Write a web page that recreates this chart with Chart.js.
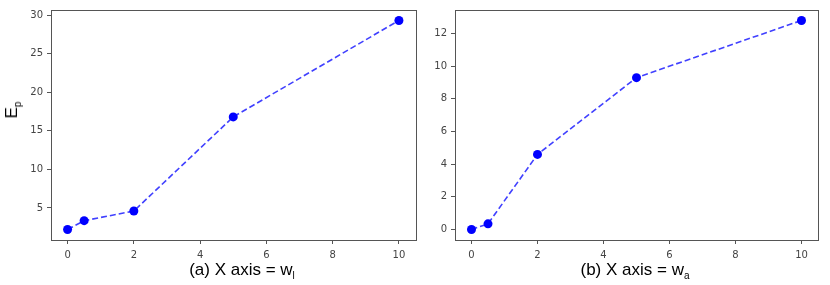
<!DOCTYPE html>
<html>
<head>
<meta charset="utf-8">
<script src="https://cdn.jsdelivr.net/npm/chart.js@4"></script>
<style>
body { margin: 0; background: #fff; }
#wrap { position: relative; width: 830px; height: 285px; overflow: hidden; }
canvas { position: absolute; top: 0; }
.cap { position: absolute; font-family: "Liberation Sans", Arial, sans-serif; font-size: 17px; color: #000; text-align: center; white-space: nowrap; }
.cap sub { font-size: 10px; vertical-align: -4px; }
#ylab { position: absolute; left: 2px; top: 110px; font-family: "Liberation Sans", Arial, sans-serif; font-size: 17px; transform-origin: left top; transform: rotate(-90deg) translate(-50%, 0); white-space: nowrap; }
#ylab sub { font-size: 10px; vertical-align: -4px; }
</style>
</head>
<body>
<div id="wrap">
  <canvas id="chartA" width="420" height="285" style="left:0"></canvas>
  <canvas id="chartB" width="410" height="285" style="left:420px"></canvas>
  <div class="cap" style="left:142px; top:260px; width:200px">(a) X axis = w<sub>l</sub></div>
  <div class="cap" style="left:535px; top:260px; width:200px">(b) X axis = w<sub>a</sub></div>
  <div id="ylab">E<sub>p</sub></div>
</div>
<script>
// x positions (same for both panels)
var xVals = [0, 0.5, 2, 5, 10];
var xTicks = [0, 2, 4, 6, 8, 10];

// panel (a): E_p vs w_l
var epA = [2.2, 3.35, 4.6, 16.8, 29.3];
var yTicksA = [5, 10, 15, 20, 25, 30];

// panel (b): E_p vs w_a
var epB = [0, 0.35, 4.6, 9.3, 12.8];
var yTicksB = [0, 2, 4, 6, 8, 10, 12];

var frame = {
  id: 'frame',
  afterDraw: function (chart) {
    var a = chart.chartArea, c = chart.ctx;
    c.save();
    c.strokeStyle = '#555';
    c.lineWidth = 1;
    c.strokeRect(Math.round(a.left) + 0.5, Math.round(a.top) + 0.5,
      Math.round(a.right - a.left), Math.round(a.bottom - a.top));
    c.restore();
  }
};

function makeChart(id, yVals, yTicks, yMin, yMax, pad, yWidth) {
  var pts = xVals.map(function (x, i) { return { x: x, y: yVals[i] }; });
  return new Chart(document.getElementById(id), {
    type: 'line',
    data: {
      datasets: [{
        data: pts,
        borderColor: 'rgba(0,0,255,0.75)',
        borderWidth: 1.6,
        borderDash: [6, 3],
        pointRadius: 4.5,
        pointBackgroundColor: '#0000ff',
        pointBorderWidth: 0,
        tension: 0,
        clip: false
      }]
    },
    options: {
      responsive: false,
      animation: false,
      devicePixelRatio: 1,
      layout: { padding: pad },
      plugins: { legend: { display: false }, tooltip: { enabled: false } },
      scales: {
        x: {
          type: 'linear', min: -0.5, max: 10.5,
          afterBuildTicks: function (s) { s.ticks = xTicks.map(function (v) { return { value: v }; }); },
          afterFit: function (s) { s.height = 45; },
          grid: { display: true, drawOnChartArea: false, drawTicks: true, tickLength: 4, color: '#555' },
          border: { display: false },
          ticks: { color: '#444', padding: 5, font: { family: 'DejaVu Sans', size: 10 }, maxRotation: 0 }
        },
        y: {
          type: 'linear', min: yMin, max: yMax,
          afterBuildTicks: function (s) { s.ticks = yTicks.map(function (v) { return { value: v }; }); },
          afterFit: function (s) { s.width = yWidth; },
          grid: { display: true, drawOnChartArea: false, drawTicks: true, tickLength: 4, color: '#555' },
          border: { display: false },
          ticks: { color: '#444', padding: 4, font: { family: 'DejaVu Sans', size: 10 } }
        }
      }
    },
    plugins: [frame]
  });
}

makeChart('chartA', epA, yTicksA, 0.845, 30.655, { top: 2, right: 2, left: 0, bottom: 0 }, 51);
makeChart('chartB', epB, yTicksB, -0.64, 13.44, { top: 3, right: 12, left: 0, bottom: 0 }, 35);
</script>
</body>
</html>
